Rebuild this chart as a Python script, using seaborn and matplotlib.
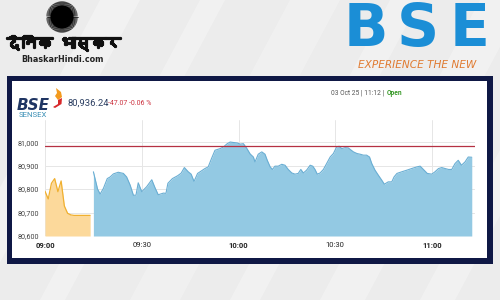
import numpy as np
import pandas as pd
import matplotlib
matplotlib.use("Agg")
import matplotlib.pyplot as plt
import matplotlib.patheffects as pe
import seaborn as sns
from matplotlib.patches import Rectangle, Polygon, Circle
from matplotlib import font_manager
from matplotlib.ft2font import FT2Font

# ---------------- data ----------------
pre_open_min = [0, 1, 2, 3, 4, 5, 6, 7, 8, 9, 10, 11, 12, 13, 14]
pre_open_val = [80791, 80758, 80825, 80845, 80789, 80835, 80728, 80697, 80690,
                80688, 80688, 80688, 80688, 80688, 80688]

blue_min = [15.0, 16.3, 17.1, 18.1, 19.3, 20.2, 21.2, 22.7, 24.3, 25.3, 26.4, 27.4,
            28.2, 28.9, 30.0, 31.5, 33.1, 34.1, 35.1, 36.7, 37.5, 38.1, 39.5, 41.1,
            42.2, 43.2, 44.4, 45.3, 46.2, 47.3, 48.4, 49.6, 50.6, 51.6, 52.7, 54.3,
            55.3, 56.5, 57.4, 58.4, 59.6, 60.5, 61.5, 62.5, 63.6, 64.6, 65.1, 66.1,
            67.2, 68.2, 68.9, 69.8, 70.5, 71.3, 72.3, 73.4, 74.4, 75.4, 76.5, 77.5,
            78.5, 79.3, 80.1, 81.1, 82.2, 83.0, 83.7, 84.4, 85.3, 86.3, 87.3, 88.4,
            89.4, 90.4, 91.2, 92.0, 93.0, 94.0, 95.6, 96.7, 97.7, 98.7, 99.7, 100.6,
            101.3, 102.3, 103.3, 104.4, 105.2, 106.4, 107.5, 108.2, 109.1, 110.6,
            112.2, 113.7, 115.3, 116.3, 117.3, 118.5, 119.9, 120.9, 122.0, 123.0,
            124.0, 125.1, 126.1, 127.1, 128.1, 129.1, 130.2, 131.2, 132.3]
blue_val = [80874, 80800, 80779, 80803, 80845, 80852, 80865, 80872, 80867, 80852,
            80817, 80774, 80774, 80827, 80789, 80810, 80840, 80806, 80776, 80783,
            80782, 80825, 80845, 80857, 80868, 80892, 80874, 80864, 80833, 80867,
            80877, 80888, 80895, 80930, 80966, 80973, 80980, 80994, 81001, 80999,
            80997, 80992, 80994, 80975, 80950, 80937, 80916, 80949, 80959, 80949,
            80923, 80895, 80884, 80898, 80898, 80906, 80902, 80884, 80869, 80864,
            80867, 80884, 80869, 80881, 80902, 80898, 80884, 80864, 80869, 80884,
            80909, 80937, 80952, 80980, 80983, 80973, 80977, 80976, 80959, 80952,
            80949, 80945, 80945, 80937, 80909, 80881, 80860, 80838, 80821, 80831,
            80831, 80852, 80867, 80874, 80881, 80888, 80895, 80898, 80884, 80867,
            80864, 80874, 80888, 80892, 80888, 80884, 80884, 80909, 80923, 80902,
            80916, 80937, 80936]

prev_close = 80983.31
y_ticks = [80600, 80700, 80800, 80900, 81000]
y_tick_labels = ["80,600", "80,700", "80,800", "80,900", "81,000"]
x_ticks = [0, 30, 60, 90, 120]
x_tick_labels = ["09:00", "09:30", "10:00", "10:30", "11:00"]

last_value = "80,936.24"
change_text = "-47.07 -0.06 %"
stamp_text = "03 Oct 25 | 11:12 | "
status_text = "Open"

# ---------------- fonts ----------------
def find_font(ch):
    for f in font_manager.fontManager.ttflist:
        try:
            if ord(ch) in FT2Font(f.fname).get_charmap():
                return f.name
        except Exception:
            pass
    return None

sns.set_theme(style="white")
plt.rcParams["font.family"] = ["Roboto", "DejaVu Sans"]
deva = find_font("\u0926")
hindi_family = [deva, "DejaVu Sans"] if deva else ["DejaVu Sans"]

# ---------------- figure ----------------
fig = plt.figure(figsize=(5, 3), dpi=100)
fig.patch.set_facecolor("#ececec")

bg = fig.add_axes([0, 0, 1, 1], zorder=0)
bg.set_xlim(0, 500)
bg.set_ylim(300, 0)
bg.axis("off")

# subtle diagonal texture
for x0, w, a in [(-60, 40, 0.35), (40, 25, 0.3), (130, 50, 0.25), (230, 30, 0.3),
                 (320, 45, 0.3), (420, 35, 0.3), (500, 40, 0.25)]:
    bg.add_patch(Polygon([(x0, 300), (x0 + w, 300), (x0 + w + 160, 0), (x0 + 160, 0)],
                         closed=True, color="white", alpha=a, lw=0))

# frame
bg.add_patch(Rectangle((7, 76), 486, 188, color="#0f1845", lw=0))
bg.add_patch(Rectangle((11.5, 81), 475.5, 176.5, color="white", lw=0))

# Dainik Bhaskar logo
for ang in np.linspace(0, 2 * np.pi, 90, endpoint=False):
    bg.plot([62 + 8 * np.cos(ang), 62 + 15.5 * np.cos(ang)],
            [17 + 8 * np.sin(ang), 17 + 15.5 * np.sin(ang)], color="black", lw=0.5)
bg.add_patch(Circle((62, 17), 11.5, color="black", lw=0))
bg.text(64, 43, "दैनिक भास्कर", family=hindi_family, fontsize=11, fontweight="bold",
        color="#111111", ha="center", va="center",
        path_effects=[pe.withStroke(linewidth=1.6, foreground="#111111")])
bg.text(62, 59, "BhaskarHindi.com", family=["DejaVu Sans"], fontsize=5.8,
        fontweight="bold", color="#222222", ha="center", va="center")

# BSE logo (letters spaced like the wordmark)
for ch, cx in zip("BSE", [366, 418, 470]):
    bg.text(cx, 29.5, ch, family=["DejaVu Sans"], fontsize=42, color="#1b8ed6",
            ha="center", va="center", fontweight="bold")
bg.text(417, 65, "EXPERIENCE THE NEW", family=["DejaVu Sans"], fontsize=7.6,
        color="#e07a30", ha="center", va="center", style="italic")

# BSE Sensex logo inside panel
bg.text(17, 106, "BSE", family=["DejaVu Sans"], fontsize=11, fontweight="bold",
        style="italic", color="#1f3563", ha="left", va="center")
bg.add_patch(Polygon([(56, 88), (61, 92), (62, 97), (58, 100), (55, 96), (57, 93)],
                     closed=True, color="#f39a1e", lw=0))
bg.add_patch(Polygon([(58, 100), (62, 98), (61.5, 104), (55, 108), (53, 107), (58, 104)],
                     closed=True, color="#d8282a", lw=0))
bg.text(19, 115, "SENSEX", fontsize=5.6, color="#3a8fb5", ha="left", va="center")
bg.text(68, 103, last_value, fontsize=6.8, color="#2c3f62", ha="left", va="center")
bg.text(108.5, 103.5, change_text, fontsize=5.0, color="#cc3340", ha="left", va="center")
bg.text(386, 93, stamp_text, fontsize=4.8, color="#555555", ha="right", va="center")
bg.text(387, 93, status_text, fontsize=4.8, color="#3a9a2a", ha="left", va="center",
        fontweight="bold")

# ---------------- chart ----------------
ax = fig.add_axes([45 / 500, 1 - 236 / 300, 430 / 500, 116 / 300], zorder=2)
ax.set_facecolor("none")
ylo, yhi = 80600, 81095

pre_df = pd.DataFrame({"minute": pre_open_min, "value": pre_open_val})
blue_df = pd.DataFrame({"minute": blue_min, "value": blue_val})

ax.fill_between(pre_df["minute"], pre_df["value"], ylo, color="#fcd99b", lw=0, zorder=2)
ax.fill_between(blue_df["minute"], blue_df["value"], ylo, color="#93c9e3", lw=0, zorder=2)
sns.lineplot(data=pre_df, x="minute", y="value", ax=ax, color="#f0b030", lw=0.9, zorder=3)
sns.lineplot(data=blue_df, x="minute", y="value", ax=ax, color="#6aaed3", lw=0.8, zorder=3)
ax.axhline(prev_close, color="#b53042", lw=0.9, zorder=4)

ax.set_xlim(0, 133.3)
ax.set_ylim(ylo, yhi)
ax.set_yticks(y_ticks)
ax.set_yticklabels(y_tick_labels, fontsize=5.2, color="#444444")
ax.set_xticks(x_ticks)
ax.set_xticklabels(x_tick_labels, fontsize=5.5, color="#222222")
for lab in ax.get_xticklabels():
    if lab.get_text().endswith(":00"):
        lab.set_fontweight("bold")
ax.tick_params(axis="both", length=0, pad=4)
ax.grid(True, color="#e6e6e6", lw=0.7, zorder=1)
ax.set_axisbelow(True)
ax.set_xlabel("")
ax.set_ylabel("")
for s in ax.spines.values():
    s.set_visible(False)

fig.savefig("out.png", dpi=100, facecolor=fig.get_facecolor())
